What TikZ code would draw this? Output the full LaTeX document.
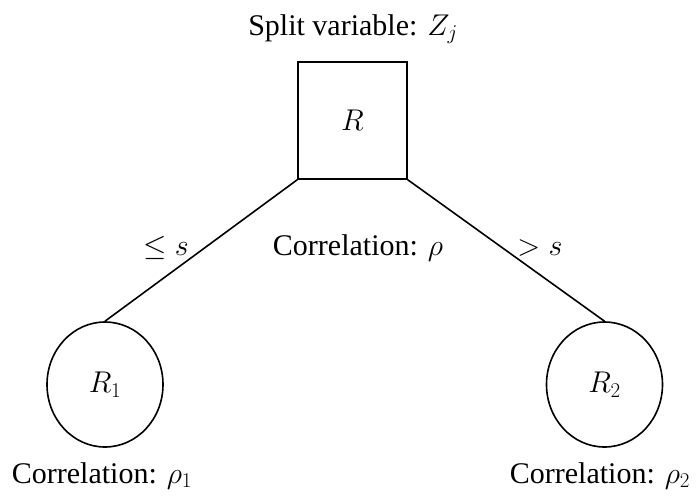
\RequirePackage{fix-cm}
\documentclass[tikz,border=0pt]{standalone}
\usepackage{fontspec}
\setmainfont{Liberation Serif}
\usetikzlibrary{shapes.geometric}
\tikzset{
  lbl/.style={font=\fontsize{30}{36}\selectfont, inner sep=0pt},
  split/.style={draw, line width=1.6pt, minimum width=109pt, minimum height=117pt, inner sep=0pt, font=\fontsize{30}{36}\selectfont},
  leaf/.style={draw, ellipse, line width=1.6pt, minimum width=116pt, minimum height=125pt, inner sep=0pt, font=\fontsize{30}{36}\selectfont},
  edge/.style={line width=1.6pt}
}
\begin{document}
\begin{tikzpicture}[x=1pt,y=-1pt]
\useasboundingbox (0,0) rectangle (697,499);
\node[lbl, anchor=base] (title) at (353,35) {Split variable: $Z_j$};
\node[split] (R) at (352.5,120.5) {$R$};
\node[leaf] (R1) at (105,384.5) {$R_1$};
\node[leaf] (R2) at (604.5,384.5) {$R_2$};
\draw[edge] (R.south west) -- (R1.north);
\draw[edge] (R.south east) -- (R2.north);
\node[lbl, anchor=base] (le) at (166,255) {$\leq s$};
\node[lbl, anchor=base] (corr) at (358,255) {Correlation: $\rho$};
\node[lbl, anchor=base] (gt) at (540,255) {$> s$};
\node[lbl, anchor=base] (c1) at (102,483) {Correlation: $\rho_1$};
\node[lbl, anchor=base] (c2) at (600,483) {Correlation: $\rho_2$};
\end{tikzpicture}
\end{document}
